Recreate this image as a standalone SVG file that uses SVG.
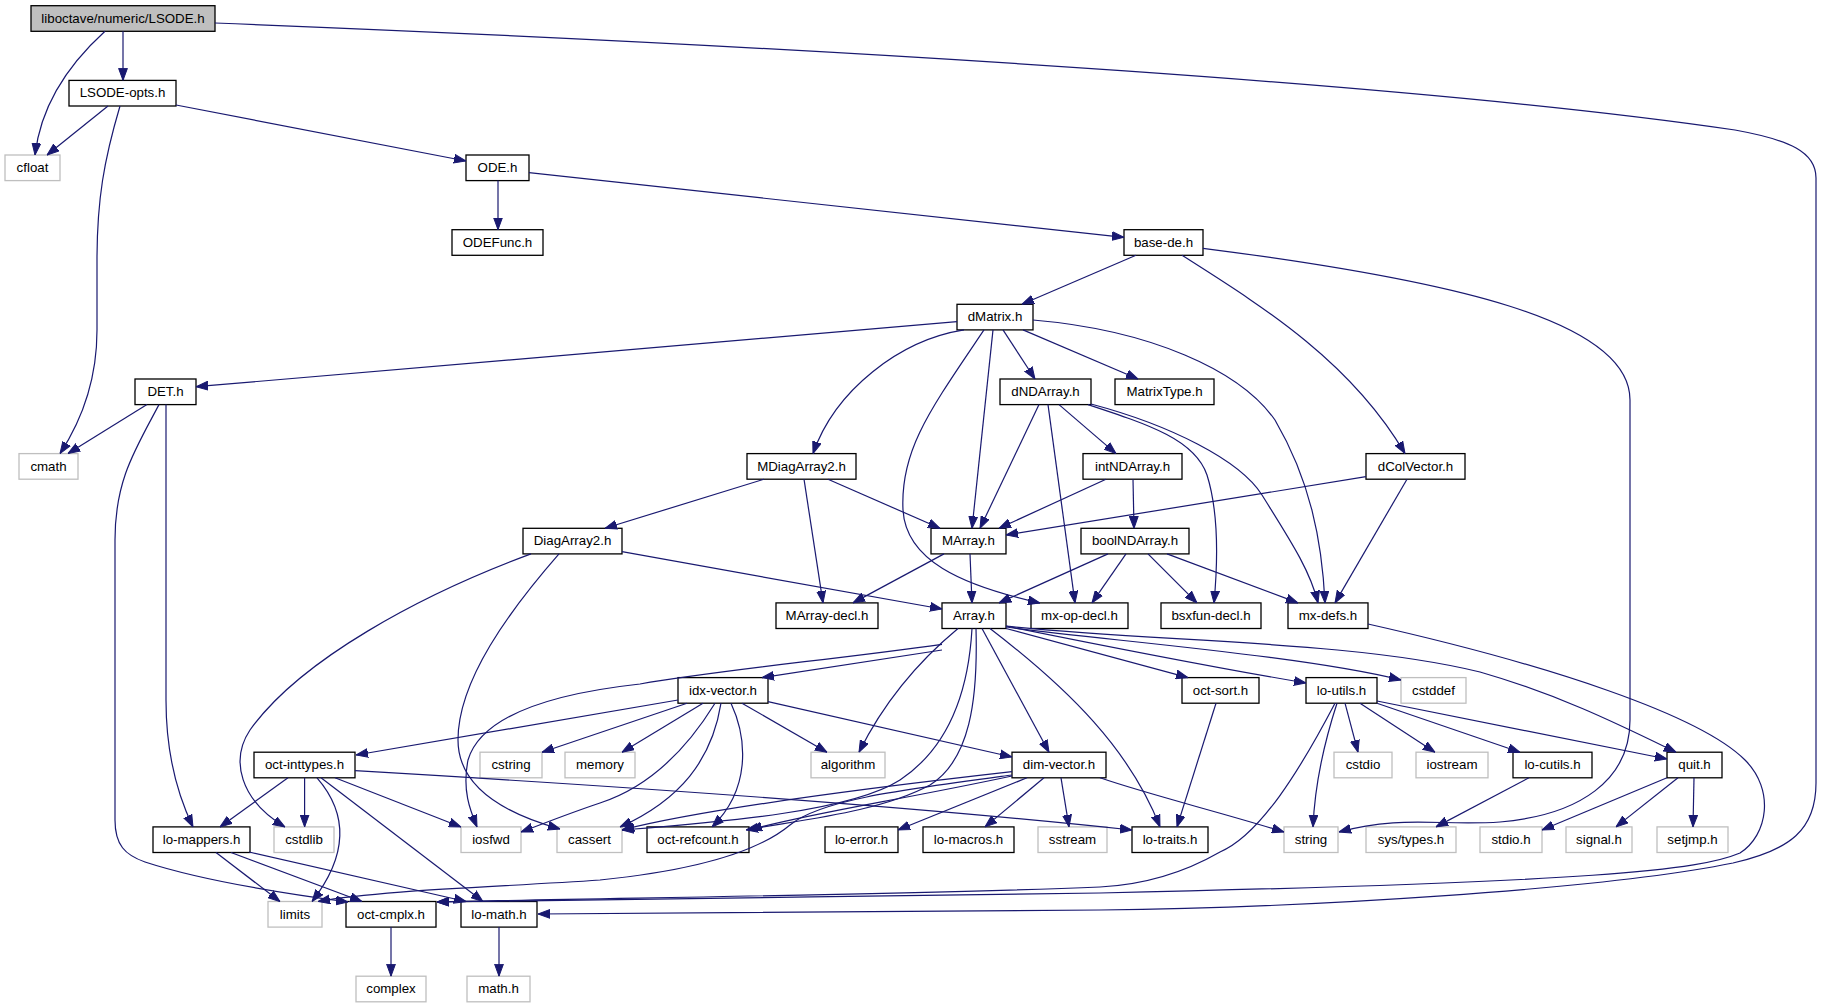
<svg xmlns="http://www.w3.org/2000/svg" width="1822" height="1008" viewBox="0 0 1822 1008">
<defs>
<marker id="a" viewBox="0 0 12 10" refX="12" refY="5" markerWidth="12" markerHeight="10" orient="auto" markerUnits="userSpaceOnUse">
<path d="M0,0.6 L12,5 L0,9.4 z" fill="#191970" stroke="#191970" stroke-width="1"/>
</marker>
</defs>
<style>
.n rect{fill:#ffffff;stroke:#000000;stroke-width:1.3}
.x rect{fill:#ffffff;stroke:#bfbfbf;stroke-width:1.3}
.r rect{fill:#bfbfbf;stroke:#000000;stroke-width:1.3}
text{font-family:"Liberation Sans",Arial,Helvetica,sans-serif;font-size:13.3px;text-anchor:middle;fill:#000}
#edges path{fill:none;stroke:#191970;stroke-width:1.2;marker-end:url(#a)}
</style>
<rect width="1822" height="1008" fill="#ffffff"/>
<g id="nodes">
<g id="n_lsode" class="r"><rect x="31" y="5.7" width="184" height="25.6"/><text x="123" y="22.7">liboctave/numeric/LSODE.h</text></g>
<g id="n_lsodeopts" class="n"><rect x="69" y="80.4" width="107" height="25.6"/><text x="122.5" y="97.4">LSODE-opts.h</text></g>
<g id="n_cfloat" class="x"><rect x="5" y="155" width="55" height="25.6"/><text x="32.5" y="172">cfloat</text></g>
<g id="n_ode" class="n"><rect x="466" y="155" width="63" height="25.6"/><text x="497.5" y="172">ODE.h</text></g>
<g id="n_odefunc" class="n"><rect x="452" y="229.7" width="91" height="25.6"/><text x="497.5" y="246.7">ODEFunc.h</text></g>
<g id="n_basede" class="n"><rect x="1124" y="229.7" width="79" height="25.6"/><text x="1163.5" y="246.7">base-de.h</text></g>
<g id="n_dmatrix" class="n"><rect x="957" y="304.3" width="76" height="25.6"/><text x="995" y="321.3">dMatrix.h</text></g>
<g id="n_det" class="n"><rect x="135" y="379" width="61" height="25.6"/><text x="165.5" y="396">DET.h</text></g>
<g id="n_dndarray" class="n"><rect x="1000" y="379" width="91" height="25.6"/><text x="1045.5" y="396">dNDArray.h</text></g>
<g id="n_matrixtype" class="n"><rect x="1115" y="379" width="99" height="25.6"/><text x="1164.5" y="396">MatrixType.h</text></g>
<g id="n_cmath" class="x"><rect x="19" y="453.6" width="59" height="25.6"/><text x="48.5" y="470.6">cmath</text></g>
<g id="n_mdiagarray2" class="n"><rect x="747" y="453.6" width="109" height="25.6"/><text x="801.5" y="470.6">MDiagArray2.h</text></g>
<g id="n_intndarray" class="n"><rect x="1083" y="453.6" width="99" height="25.6"/><text x="1132.5" y="470.6">intNDArray.h</text></g>
<g id="n_dcolvector" class="n"><rect x="1366" y="453.6" width="99" height="25.6"/><text x="1415.5" y="470.6">dColVector.h</text></g>
<g id="n_diagarray2" class="n"><rect x="523" y="528.3" width="99" height="25.6"/><text x="572.5" y="545.3">DiagArray2.h</text></g>
<g id="n_marray" class="n"><rect x="931" y="528.3" width="75" height="25.6"/><text x="968.5" y="545.3">MArray.h</text></g>
<g id="n_boolndarray" class="n"><rect x="1081" y="528.3" width="108" height="25.6"/><text x="1135" y="545.3">boolNDArray.h</text></g>
<g id="n_marraydecl" class="n"><rect x="776" y="602.9" width="102" height="25.6"/><text x="827" y="619.9">MArray-decl.h</text></g>
<g id="n_array" class="n"><rect x="942" y="602.9" width="64" height="25.6"/><text x="974" y="619.9">Array.h</text></g>
<g id="n_mxopdecl" class="n"><rect x="1031" y="602.9" width="97" height="25.6"/><text x="1079.5" y="619.9">mx-op-decl.h</text></g>
<g id="n_bsxfundecl" class="n"><rect x="1161" y="602.9" width="100" height="25.6"/><text x="1211" y="619.9">bsxfun-decl.h</text></g>
<g id="n_mxdefs" class="n"><rect x="1288" y="602.9" width="80" height="25.6"/><text x="1328" y="619.9">mx-defs.h</text></g>
<g id="n_idxvector" class="n"><rect x="678" y="677.6" width="90" height="25.6"/><text x="723" y="694.6">idx-vector.h</text></g>
<g id="n_octsort" class="n"><rect x="1182" y="677.6" width="77" height="25.6"/><text x="1220.5" y="694.6">oct-sort.h</text></g>
<g id="n_loutils" class="n"><rect x="1306" y="677.6" width="71" height="25.6"/><text x="1341.5" y="694.6">lo-utils.h</text></g>
<g id="n_cstddef" class="x"><rect x="1401" y="677.6" width="65" height="25.6"/><text x="1433.5" y="694.6">cstddef</text></g>
<g id="n_octinttypes" class="n"><rect x="254" y="752.2" width="101" height="25.6"/><text x="304.5" y="769.2">oct-inttypes.h</text></g>
<g id="n_cstring" class="x"><rect x="480" y="752.2" width="62" height="25.6"/><text x="511" y="769.2">cstring</text></g>
<g id="n_memory" class="x"><rect x="565" y="752.2" width="70" height="25.6"/><text x="600" y="769.2">memory</text></g>
<g id="n_algorithm" class="x"><rect x="811" y="752.2" width="74" height="25.6"/><text x="848" y="769.2">algorithm</text></g>
<g id="n_dimvector" class="n"><rect x="1012" y="752.2" width="94" height="25.6"/><text x="1059" y="769.2">dim-vector.h</text></g>
<g id="n_cstdio" class="x"><rect x="1334" y="752.2" width="58" height="25.6"/><text x="1363" y="769.2">cstdio</text></g>
<g id="n_iostream" class="x"><rect x="1416" y="752.2" width="72" height="25.6"/><text x="1452" y="769.2">iostream</text></g>
<g id="n_locutils" class="n"><rect x="1513" y="752.2" width="79" height="25.6"/><text x="1552.5" y="769.2">lo-cutils.h</text></g>
<g id="n_quit" class="n"><rect x="1667" y="752.2" width="55" height="25.6"/><text x="1694.5" y="769.2">quit.h</text></g>
<g id="n_lomappers" class="n"><rect x="153" y="826.9" width="97" height="25.6"/><text x="201.5" y="843.9">lo-mappers.h</text></g>
<g id="n_cstdlib" class="x"><rect x="274" y="826.9" width="60" height="25.6"/><text x="304" y="843.9">cstdlib</text></g>
<g id="n_iosfwd" class="x"><rect x="461" y="826.9" width="60" height="25.6"/><text x="491" y="843.9">iosfwd</text></g>
<g id="n_cassert" class="x"><rect x="557" y="826.9" width="65" height="25.6"/><text x="589.5" y="843.9">cassert</text></g>
<g id="n_octrefcount" class="n"><rect x="647" y="826.9" width="102" height="25.6"/><text x="698" y="843.9">oct-refcount.h</text></g>
<g id="n_loerror" class="n"><rect x="825" y="826.9" width="73" height="25.6"/><text x="861.5" y="843.9">lo-error.h</text></g>
<g id="n_lomacros" class="n"><rect x="923" y="826.9" width="91" height="25.6"/><text x="968.5" y="843.9">lo-macros.h</text></g>
<g id="n_sstream" class="x"><rect x="1038" y="826.9" width="69" height="25.6"/><text x="1072.5" y="843.9">sstream</text></g>
<g id="n_lotraits" class="n"><rect x="1132" y="826.9" width="76" height="25.6"/><text x="1170" y="843.9">lo-traits.h</text></g>
<g id="n_string" class="x"><rect x="1284" y="826.9" width="54" height="25.6"/><text x="1311" y="843.9">string</text></g>
<g id="n_systypes" class="x"><rect x="1366" y="826.9" width="90" height="25.6"/><text x="1411" y="843.9">sys/types.h</text></g>
<g id="n_stdio" class="x"><rect x="1480" y="826.9" width="62" height="25.6"/><text x="1511" y="843.9">stdio.h</text></g>
<g id="n_signal" class="x"><rect x="1566" y="826.9" width="66" height="25.6"/><text x="1599" y="843.9">signal.h</text></g>
<g id="n_setjmp" class="x"><rect x="1657" y="826.9" width="71" height="25.6"/><text x="1692.5" y="843.9">setjmp.h</text></g>
<g id="n_limits" class="x"><rect x="268" y="901.5" width="54" height="25.6"/><text x="295" y="918.5">limits</text></g>
<g id="n_octcmplx" class="n"><rect x="346" y="901.5" width="90" height="25.6"/><text x="391" y="918.5">oct-cmplx.h</text></g>
<g id="n_lomath" class="n"><rect x="461" y="901.5" width="76" height="25.6"/><text x="499" y="918.5">lo-math.h</text></g>
<g id="n_complex" class="x"><rect x="356" y="976.2" width="70" height="25.6"/><text x="391" y="993.2">complex</text></g>
<g id="n_mathh" class="x"><rect x="467" y="976.2" width="63" height="25.6"/><text x="498.5" y="993.2">math.h</text></g>
</g>
<g id="edges">
<path d="M105,31.3 C80,54 42,95 35,155"/>
<path d="M123,31.3 L123,80.4"/>
<path d="M215,23 C900,50 1450,88 1735,130 C1790,140 1816,152 1816,178 L1816,783 C1816,830 1790,850 1733,863 C1600,890 1300,908 1100,910 L538,914"/>
<path d="M108,106 L47,155"/>
<path d="M120,106 C104,160 97,200 97,260 L97,330 C97,380 82,420 60,453.6"/>
<path d="M176,105 L466,161"/>
<path d="M498,180.6 L498,229.7"/>
<path d="M529,172.7 L1124,237.3"/>
<path d="M1136,255.3 L1022,304.3"/>
<path d="M1182,255.3 C1260,305 1350,360 1405,453.6"/>
<path d="M1203,248.3 C1450,280 1630,320 1630,400 L1630,720 C1630,780 1580,815 1500,822 C1440,826 1400,815 1339,832"/>
<path d="M957,321.7 L196,386.7"/>
<path d="M964,329.9 C900,340 835,390 813,453.6"/>
<path d="M984,329.9 C930,410 900,450 903,510 C906,560 960,585 1040,603"/>
<path d="M993,329.9 L972,528.3"/>
<path d="M1003,329.9 L1035,379"/>
<path d="M1023,329.9 L1138,379"/>
<path d="M1033,320 C1150,330 1240,370 1275,420 C1310,480 1322,540 1325,602.9"/>
<path d="M147,404.6 L68,453.6"/>
<path d="M166,404.6 L166,700 C166,760 180,800 193,826.9"/>
<path d="M159,404.6 C135,450 115,480 115,540 L115,820 C115,845 125,855 145,862 C200,880 280,893 348,902"/>
<path d="M1039,404.6 L980,528.3"/>
<path d="M1048,404.6 L1075,602.9"/>
<path d="M1059,404.6 L1116,453.6"/>
<path d="M1088,404.6 C1150,425 1195,440 1207,475 C1218,510 1218,560 1214,602.9"/>
<path d="M1091,404 C1170,425 1240,460 1262,495 C1290,540 1310,570 1318,602.9"/>
<path d="M764,479.2 L605,528.3"/>
<path d="M804,479.2 L823,602.9"/>
<path d="M828,479.2 L940,528.3"/>
<path d="M1106,479.2 L999,528.3"/>
<path d="M1133,479.2 L1134,528.3"/>
<path d="M1366,476.7 L1006,535"/>
<path d="M1407,479.2 L1335,602.9"/>
<path d="M622,551.7 L942,609"/>
<path d="M531,553.9 C420,595 300,660 250,730 C230,760 240,800 285,826.9"/>
<path d="M559,553.9 C510,610 458,680 458,740 C458,790 510,815 560,829"/>
<path d="M944,553.9 L853,602.9"/>
<path d="M970,553.9 L972,602.9"/>
<path d="M1108,553.9 L999,602.9"/>
<path d="M1126,553.9 L1092,602.9"/>
<path d="M1148,553.9 L1197,602.9"/>
<path d="M1167,553.9 L1298,602.9"/>
<path d="M1368,624 C1550,665 1700,715 1745,760 C1775,790 1768,835 1740,853 C1700,870 1600,882 1100,893 C900,897 600,898 437,902"/>
<path d="M1335,703.2 C1300,770 1260,835 1220,852 C1180,875 1140,885 1100,887 C900,895 600,898 437,902"/>
<path d="M942,650 L762,677.6"/>
<path d="M942,644.3 C830,660 720,670 640,684 C540,695 480,720 468,760 C462,790 470,810 477,826.9"/>
<path d="M958,628.5 C920,660 885,700 859,752.2"/>
<path d="M972,628.5 C968,700 945,750 900,780 C850,812 720,822 622,830"/>
<path d="M976,628.5 C978,700 970,760 930,785 C880,812 800,820 746,830"/>
<path d="M982,628.5 L1049,752.2"/>
<path d="M990,628.5 C1070,690 1130,750 1160,826.9"/>
<path d="M1006,628.5 L1188,677.6"/>
<path d="M1006,626 C1100,645 1200,665 1306,683"/>
<path d="M1006,627 C1100,640 1300,655 1401,680"/>
<path d="M1006,626 C1150,642 1350,640 1480,672 C1560,695 1620,725 1676,752.2"/>
<path d="M678,700 L356,755"/>
<path d="M687,703.2 L542,752.2"/>
<path d="M703,703.2 L622,752.2"/>
<path d="M742,703.2 L827,752.2"/>
<path d="M768,701.7 L1012,757"/>
<path d="M715,703.2 C680,760 640,790 600,803 C570,813 545,823 521,832"/>
<path d="M721,703.2 C712,760 680,800 620,827"/>
<path d="M731,703.2 C748,740 750,790 712,826.9"/>
<path d="M288,777.8 L220,826.9"/>
<path d="M304.6,777.8 L304.6,826.9"/>
<path d="M317,777.8 C345,810 352,850 312,901.5"/>
<path d="M321,777.8 L483,901.5"/>
<path d="M335,777.8 L461,827"/>
<path d="M355,770.7 C600,785 900,805 1132,830"/>
<path d="M1012,771.7 C850,790 700,810 622,830"/>
<path d="M1012,776 C900,800 800,815 750,830"/>
<path d="M1027,777.8 L898,830"/>
<path d="M1044,777.8 L985,826.9"/>
<path d="M1061,777.8 L1069,826.9"/>
<path d="M1100,777.8 C1150,795 1220,812 1284,832"/>
<path d="M1012,775 C900,790 820,800 790,825 C760,850 700,870 600,880 C500,887 380,890 318,901.5"/>
<path d="M216,852.5 L280,901.5"/>
<path d="M231,852.5 L362,901.5"/>
<path d="M249,852 L466,901.5"/>
<path d="M391,927.1 L391,976.2"/>
<path d="M499,927.1 L499,976.2"/>
<path d="M1216,703.2 L1177,826.9"/>
<path d="M1345,703.2 L1358,752.2"/>
<path d="M1360,703.2 L1435,752.2"/>
<path d="M1377,703.2 L1520,752.2"/>
<path d="M1377,701 L1667,759"/>
<path d="M1337,703.2 C1325,740 1315,780 1313,826.9"/>
<path d="M1529,777.8 L1436,826.9"/>
<path d="M1667,777.8 L1542,830"/>
<path d="M1678,777.8 L1616,826.9"/>
<path d="M1694,777.8 L1693,826.9"/>
</g>
</svg>
